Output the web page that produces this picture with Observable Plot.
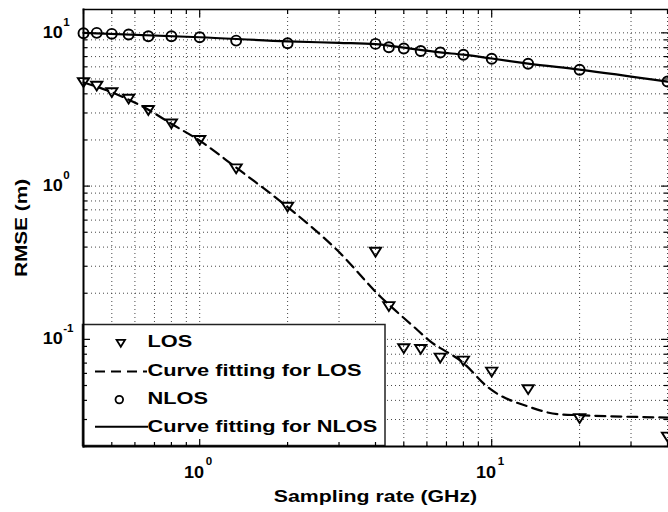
<!DOCTYPE html>
<html>
<head>
<meta charset="utf-8">
<script src="https://cdn.jsdelivr.net/npm/d3@7"></script>
<script src="https://cdn.jsdelivr.net/npm/@observablehq/plot@0.6"></script>
<style>
  body { margin: 0; background: #fff; }
  #chart { position: relative; width: 668px; height: 512px; }
</style>
</head>
<body>
<div id="chart"></div>
<script>
// ---- data ----
const rate = [0.4, 0.444, 0.5, 0.571, 0.667, 0.8, 1, 1.333, 2, 4, 4.444, 5, 5.714, 6.667, 8, 10, 13.33, 20, 40];
const losRmse = [4.75, 4.5, 4.08, 3.7, 3.12, 2.55, 1.99, 1.30, 0.73, 0.371, 0.164, 0.0871, 0.0861, 0.0757, 0.0723, 0.0613, 0.0471, 0.0305, 0.0231];
const nlosRmse = [9.94, 10.0, 9.85, 9.75, 9.5, 9.5, 9.36, 8.9, 8.56, 8.47, 8.06, 7.9, 7.62, 7.44, 7.19, 6.77, 6.28, 5.74, 4.81];

const losFitRate = [0.4, 0.5, 0.667, 0.8, 1, 1.333, 2, 2.96, 4.17, 5.42, 6.1, 8.04, 9.67, 13.6, 16.8, 20, 40];
const losFitRmse = [4.75, 4.1, 3.15, 2.55, 1.98, 1.32, 0.73, 0.381, 0.189, 0.1205, 0.0986, 0.0695, 0.049, 0.036, 0.0325, 0.032, 0.0309];

const nlosFitRate = [0.4, 1, 2, 3, 4, 5, 6.667, 8, 10, 13.33, 20, 40];
const nlosFitRmse = [10.0, 9.36, 8.8, 8.6, 8.45, 8.0, 7.45, 7.2, 6.8, 6.3, 5.75, 4.8];

const xMajorTicks = [1, 10];
const xMinorTicks = [0.4, 0.5, 0.6, 0.7, 0.8, 0.9, 2, 3, 4, 5, 6, 7, 8, 9, 20, 30, 40];
const yMajorTicks = [0.1, 1, 10];
const yMinorTicks = [0.02, 0.03, 0.04, 0.05, 0.06, 0.07, 0.08, 0.09, 0.2, 0.3, 0.4, 0.5, 0.6, 0.7, 0.8, 0.9, 2, 3, 4, 5, 6, 7, 8, 9];
const xTickExp = ["0", "1"];
const yTickExp = ["-1", "0", "1"];
const xLabel = "Sampling rate (GHz)";
const yLabel = "RMSE (m)";
const legendLabels = ["LOS", "Curve fitting for LOS", "NLOS", "Curve fitting for NLOS"];

// ---- tables for Plot ----
const los = rate.map((r, i) => ({rate: r, rmse: losRmse[i]}));
const nlos = rate.map((r, i) => ({rate: r, rmse: nlosRmse[i]}));
const losFit = losFitRate.map((r, i) => ({rate: r, rmse: losFitRmse[i]}));
const nlosFit = nlosFitRate.map((r, i) => ({rate: r, rmse: nlosFitRmse[i]}));

const FONT = "'Liberation Sans', Arial, Helvetica, sans-serif";
const downTriangle = {
  draw(ctx) { ctx.moveTo(-5.6, -4.3); ctx.lineTo(5.6, -4.3); ctx.lineTo(0, 4.5); ctx.closePath(); }
};

const gridStyle = {stroke: "#333", strokeOpacity: 0.9, strokeWidth: 1, strokeDasharray: "1,3"};
const tickStyle = {tickFormat: () => "", label: null, strokeWidth: 1.2, stroke: "#000"};
const txt = {fontWeight: "bold", fill: "#000", fontFamily: FONT};

const svg = Plot.plot({
  width: 668,
  height: 512,
  marginLeft: 83,
  marginRight: 1,
  marginTop: 9,
  marginBottom: 66,
  style: {fontFamily: FONT, background: "#fff", color: "#000"},
  x: {type: "log", domain: [0.4, 40]},
  y: {type: "log", domain: [0.02, 14.2]},
  marks: [
    Plot.gridX(xMinorTicks.concat(xMajorTicks), gridStyle),
    Plot.gridY(yMinorTicks.concat(yMajorTicks), gridStyle),
    Plot.line(nlosFit, {x: "rate", y: "rmse", stroke: "#000", strokeWidth: 2.2, curve: "monotone-x"}),
    Plot.line(losFit, {x: "rate", y: "rmse", stroke: "#000", strokeWidth: 2.2, strokeDasharray: "10,6", curve: "monotone-x"}),
    Plot.dot(nlos, {x: "rate", y: "rmse", r: 5, stroke: "#000", strokeWidth: 1.9, fill: "none"}),
    Plot.dot(los, {x: "rate", y: "rmse", symbol: downTriangle, stroke: "#000", strokeWidth: 1.9, fill: "none"}),
    Plot.axisX(xMinorTicks, {anchor: "bottom", tickSize: -4, ...tickStyle}),
    Plot.axisX(xMajorTicks, {anchor: "bottom", tickSize: -7, ...tickStyle}),
    Plot.axisX(xMinorTicks, {anchor: "top", tickSize: -4, ...tickStyle}),
    Plot.axisX(xMajorTicks, {anchor: "top", tickSize: -7, ...tickStyle}),
    Plot.axisY(yMinorTicks, {anchor: "left", tickSize: -4, ...tickStyle}),
    Plot.axisY(yMajorTicks, {anchor: "left", tickSize: -7, ...tickStyle}),
    Plot.axisY(yMinorTicks, {anchor: "right", tickSize: -4, ...tickStyle}),
    Plot.axisY(yMajorTicks, {anchor: "right", tickSize: -7, ...tickStyle}),
    Plot.frame({anchor: "bottom", stroke: "#000", strokeWidth: 2}),
    Plot.frame({anchor: "left", stroke: "#000", strokeWidth: 2}),
    Plot.frame({anchor: "top", stroke: "#000", strokeWidth: 1.5}),
    // tick labels 10^n
    Plot.text(yMajorTicks, {y: d => d, frameAnchor: "left", text: () => "10", textAnchor: "end", lineAnchor: "middle", dx: -20.7, dy: 0, fontSize: "16px", ...txt}),
    Plot.text(yMajorTicks, {y: d => d, frameAnchor: "left", text: (d, i) => yTickExp[i], textAnchor: "start", lineAnchor: "middle", dx: -20.3, dy: -10.8, fontSize: "11px", ...txt}),
    Plot.text(xMajorTicks, {x: d => d, frameAnchor: "bottom", text: () => "10", textAnchor: "end", lineAnchor: "middle", dx: 4.3, dy: 26.5, fontSize: "16px", ...txt}),
    Plot.text(xMajorTicks, {x: d => d, frameAnchor: "bottom", text: (d, i) => xTickExp[i], textAnchor: "start", lineAnchor: "middle", dx: 6, dy: 14.8, fontSize: "11px", ...txt}),
    // axis titles
    Plot.text([xLabel], {frameAnchor: "bottom", text: d => d, textAnchor: "middle", lineAnchor: "middle", dy: 50, fontSize: "16px", ...txt}),
    Plot.text([yLabel], {frameAnchor: "left", text: d => d, rotate: -90, textAnchor: "middle", lineAnchor: "middle", dx: -62, fontSize: "16px", ...txt})
  ]
});

document.getElementById("chart").appendChild(svg);

// ---- legend (inside the axes, lower-left, drawn below the axis ticks) ----
const NS = "http://www.w3.org/2000/svg";
const firstTick = svg.querySelector('g[aria-label="x-axis tick"]');
const lg = document.createElementNS(NS, "g");
svg.insertBefore(lg, firstTick);
const L = d3.select(lg);
L.append("rect").attr("x", 82.5).attr("y", 324.5).attr("width", 302.5).attr("height", 121)
  .attr("fill", "#fff").attr("stroke", "#222").attr("stroke-width", 1.5);
const rowY = i => 341.8 + i * 28.3;
legendLabels.forEach((lab, i) => {
  L.append("text").attr("x", 147.5).attr("y", rowY(i)).attr("dy", "0.35em")
    .attr("text-anchor", "start").style("text-anchor", "start")
    .attr("font-family", FONT).attr("font-size", 16).attr("font-weight", "bold").attr("fill", "#000").text(lab);
});
// LOS marker
L.append("path").attr("transform", `translate(120.8,${rowY(0) + 1.5})`)
  .attr("d", "M-4.2,-3.4L4.2,-3.4L0,3.4Z").attr("fill", "none").attr("stroke", "#000").attr("stroke-width", 1.8);
// LOS fit line
L.append("line").attr("x1", 95).attr("x2", 147).attr("y1", rowY(1) + 1.5).attr("y2", rowY(1) + 1.5)
  .attr("stroke", "#000").attr("stroke-width", 2).attr("stroke-dasharray", "10,6");
// NLOS marker
L.append("circle").attr("cx", 119.3).attr("cy", rowY(2) + 1.2).attr("r", 3.8)
  .attr("fill", "none").attr("stroke", "#000").attr("stroke-width", 1.8);
// NLOS fit line
L.append("line").attr("x1", 95).attr("x2", 148).attr("y1", rowY(3)).attr("y2", rowY(3))
  .attr("stroke", "#000").attr("stroke-width", 2);

// ---- widen text like the reference (its glyphs are horizontally stretched) ----
const stretch = new Map([["10", 1.13], [xLabel, 1.33], [yLabel, 1.30]]);
xTickExp.concat(yTickExp).forEach(s => stretch.set(s, 1.05));
legendLabels.forEach(s => stretch.set(s, 1.36));
svg.querySelectorAll("text").forEach(t => {
  const s = t.textContent;
  if (!stretch.has(s)) return;
  const w = t.getComputedTextLength();
  if (w > 0) {
    t.setAttribute("textLength", (w * stretch.get(s)).toFixed(2));
    t.setAttribute("lengthAdjust", "spacingAndGlyphs");
  }
});
</script>
</body>
</html>
